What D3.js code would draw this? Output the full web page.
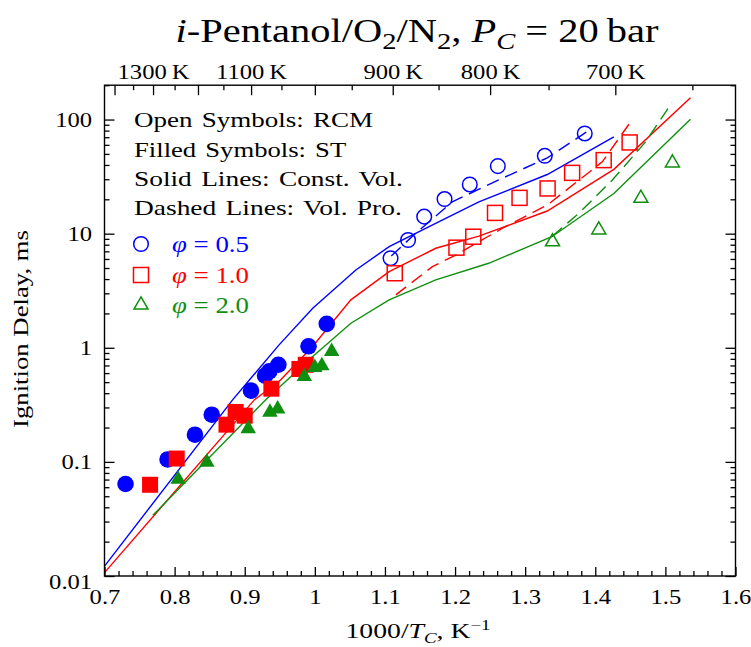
<!DOCTYPE html>
<html><head><meta charset="utf-8">
<script src="https://cdn.jsdelivr.net/npm/d3@7"></script>
<style>
html,body{margin:0;padding:0;background:#fff;}
svg text{font-family:"Liberation Serif","Times New Roman",serif;fill:#000;}
</style></head>
<body>
<svg id="chart" width="751" height="647"></svg>
<script>
// ---- data ----
// shock tube (filled symbols)
const st05X = [0.730,0.790,0.829,0.853,0.909,0.929,0.935,0.948,0.991,1.017];
const st05Y = [0.064,0.105,0.173,0.259,0.421,0.569,0.621,0.710,1.03,1.62];
const st10X = [0.765,0.803,0.874,0.887,0.900,0.938,0.978,0.987];
const st10Y = [0.063,0.107,0.212,0.274,0.254,0.438,0.652,0.710];
const st20X = [0.805,0.846,0.905,0.936,0.947,0.985,1.000,1.010,1.024];
const st20Y = [0.0705,0.0993,0.195,0.272,0.291,0.561,0.673,0.697,0.929];
// RCM (open symbols)
const rcm05X = [1.108,1.133,1.156,1.185,1.221,1.261,1.328,1.385];
const rcm05Y = [6.09,8.8,14.1,20.1,27.0,39.1,48.1,75.5];
const rcm10X = [1.114,1.202,1.226,1.257,1.292,1.332,1.367,1.412,1.449];
const rcm10Y = [4.50,7.54,9.4,15.2,20.6,24.9,34.1,44.1,63];
const rcm20X = [1.339,1.405,1.465,1.510];
const rcm20Y = [8.5,10.8,20.4,41.7];
// constant volume simulations (solid)
const cv05X = [0.7,0.883,0.949,0.997,1.0585,1.106,1.163,1.234,1.3315,1.4265];
const cv05Y = [0.0122,0.351,1.06,2.22,4.81,7.69,11.5,19.0,33.0,70.5];
const cv10X = [0.7,0.914,0.949,0.997,1.0514,1.106,1.1725,1.234,1.3315,1.4265,1.5358];
const cv10Y = [0.0107,0.351,0.507,1.03,2.63,4.64,7.45,9.5,15.8,36.6,155];
const cv20X = [0.769,0.930,0.997,1.0514,1.106,1.1725,1.248,1.338,1.4265,1.5358];
const cv20Y = [0.034,0.351,0.839,1.64,2.63,3.93,5.5,9.4,22.5,100.6];
// volume profile simulations (dashed)
const vp05X = [1.109,1.144,1.196,1.267,1.3315,1.395];
const vp05Y = [6.37,10.1,19.0,30.5,46.1,83.4];
const vp10X = [1.1155,1.1677,1.201,1.267,1.3315,1.3766,1.41,1.448];
const vp10Y = [2.91,5.14,6.5,11.1,17.8,29.4,42.6,91];
const vp20X = [1.3386,1.3766,1.424,1.4717,1.5095];
const vp20Y = [9.5,15.1,29.4,63.7,141];
// ticks
const xTicks = [0.7,0.8,0.9,1.0,1.1,1.2,1.3,1.4,1.5,1.6];
const xTickLabels = ["0.7","0.8","0.9","1","1.1","1.2","1.3","1.4","1.5","1.6"];
const yTicks = [0.01,0.1,1,10,100];
const yTickLabels = ["0.01","0.1","1","10","100"];
const tempTicks = [1400,1350,1300,1250,1200,1150,1100,1050,1000,950,900,850,800,750,700,650];
const tempLabels = [1300,1100,900,800,700];
const legendLines = ["Open Symbols: RCM","Filled Symbols: ST","Solid Lines: Const. Vol.","Dashed Lines: Vol. Pro."];
const phiLabels = ["0.5","1.0","2.0"];

const BLUE = "#0000ff", RED = "#ff0000", GREEN = "#0f8f0f";

// ---- layout ----
const svg = d3.select("#chart");
const L = 104.5, R = 735.5, T = 85.2, B = 576;
const x = d3.scaleLinear().domain([0.7,1.6]).range([L,R]);
const y = d3.scaleLog().domain([0.01,200]).range([B,T]);

const zip = (a,b)=>a.map((v,i)=>[v,b[i]]);
const line = d3.line().x(d=>x(d[0])).y(d=>y(d[1]));

// stretch a text (inside its own group) horizontally to a target width about pivot px
function stretch(textSel, target, pivot){
  const w = textSel.node().getBBox().width;
  const sx = target / w;
  textSel.attr("transform", `translate(${pivot},0) scale(${sx},1) translate(${-pivot},0)`);
}

const plot = svg.append("g");
plot.append("clipPath").attr("id","clip").append("rect")
  .attr("x",L).attr("y",T).attr("width",R-L).attr("height",B-T);
const g = plot.append("g").attr("clip-path","url(#clip)");

function drawLine(X,Y,color,dash){
  g.append("path").datum(zip(X,Y)).attr("d",line)
    .attr("fill","none").attr("stroke",color).attr("stroke-width",1.4)
    .attr("stroke-dasharray",dash?"13,7":null);
}
drawLine(cv05X,cv05Y,BLUE,false);
drawLine(cv10X,cv10Y,RED,false);
drawLine(cv20X,cv20Y,GREEN,false);
drawLine(vp05X,vp05Y,BLUE,true);
drawLine(vp10X,vp10Y,RED,true);
drawLine(vp20X,vp20Y,GREEN,true);

function triPath(s){
  const h = s*Math.sqrt(3)/2;
  return `M0,${-2*h/3}L${s/2},${h/3}L${-s/2},${h/3}Z`;
}
function marker(sel, shape, color, filled){
  let m;
  if(shape==="circle"){
    m = sel.append("circle").attr("r", filled?8.3:7.3);
  } else if(shape==="square"){
    const s = filled?16:15;
    m = sel.append("rect").attr("x",-s/2).attr("y",-s/2).attr("width",s).attr("height",s);
  } else {
    m = sel.append("path").attr("d", triPath(filled?15.5:14));
  }
  if(filled) m.attr("fill",color).attr("stroke","none");
  else m.attr("fill","none").attr("stroke",color).attr("stroke-width",1.5);
}
function drawPts(X,Y,shape,color,filled){
  zip(X,Y).forEach(d=>{
    const gg = g.append("g").attr("transform",`translate(${x(d[0])},${y(d[1])})`);
    marker(gg,shape,color,filled);
  });
}
drawPts(rcm05X,rcm05Y,"circle",BLUE,false);
drawPts(rcm10X,rcm10Y,"square",RED,false);
drawPts(rcm20X,rcm20Y,"tri",GREEN,false);
drawPts(st05X,st05Y,"circle",BLUE,true);
drawPts(st10X,st10Y,"square",RED,true);
drawPts(st20X,st20Y,"tri",GREEN,true);

// ---- axes ----
const fmtX = d=>xTickLabels[xTicks.findIndex(v=>Math.abs(v-d)<1e-6)];
const fmtY = d=>yTickLabels[yTicks.findIndex(v=>Math.abs(v-d)<1e-9)];
const xMinor = d3.range(0.72,1.6,0.02).filter(v=>Math.abs(v*10-Math.round(v*10))>1e-6);
const yMinor = [];
[0.01,0.1,1,10,100].forEach(dec=>{for(let k=2;k<=9;k++){const v=dec*k; if(v<=200) yMinor.push(v);}});

function styleAxis(a){
  a.select(".domain").remove();
  a.selectAll(".tick line").attr("stroke","#000").attr("stroke-width",1.3);
  a.selectAll("text").style("font-size","22px").attr("fill","#000").attr("transform","scale(1.12,1)");
}
const ax1 = svg.append("g").attr("transform",`translate(0,${B})`)
  .call(d3.axisBottom(x).tickValues(xTicks).tickFormat(fmtX).tickSizeInner(-9).tickSizeOuter(0).tickPadding(12));
styleAxis(ax1);
const ax1m = svg.append("g").attr("transform",`translate(0,${B})`)
  .call(d3.axisBottom(x).tickValues(xMinor).tickFormat("").tickSizeInner(-5).tickSizeOuter(0));
styleAxis(ax1m);

const ay1 = svg.append("g").attr("transform",`translate(${L},0)`)
  .call(d3.axisLeft(y).tickValues(yTicks).tickFormat(fmtY).tickSizeInner(-10).tickSizeOuter(0).tickPadding(11));
styleAxis(ay1);
const ay1m = svg.append("g").attr("transform",`translate(${L},0)`)
  .call(d3.axisLeft(y).tickValues(yMinor).tickFormat("").tickSizeInner(-5).tickSizeOuter(0));
styleAxis(ay1m);
const ay2 = svg.append("g").attr("transform",`translate(${R},0)`)
  .call(d3.axisRight(y).tickValues(yTicks).tickFormat("").tickSizeInner(-10).tickSizeOuter(0));
styleAxis(ay2);
const ay2m = svg.append("g").attr("transform",`translate(${R},0)`)
  .call(d3.axisRight(y).tickValues(yMinor).tickFormat("").tickSizeInner(-5).tickSizeOuter(0));
styleAxis(ay2m);
ay1.selectAll(".tick text").filter(d=>d===0.01).attr("dy","0.55em");

// top temperature axis
const tempMajor = tempTicks.filter(t=>t%100===0);
const tempMinor = tempTicks.filter(t=>t%100!==0);
const at1 = svg.append("g").attr("transform",`translate(0,${T})`)
  .call(d3.axisTop(x).tickValues(tempMajor.map(t=>1000/t))
    .tickFormat(v=>{const t=Math.round(1000/v); return tempLabels.includes(t)? t+"\u2009K" : "";})
    .tickSizeInner(-10).tickSizeOuter(0).tickPadding(6));
styleAxis(at1);
const at1m = svg.append("g").attr("transform",`translate(0,${T})`)
  .call(d3.axisTop(x).tickValues(tempMinor.map(t=>1000/t)).tickFormat("").tickSizeInner(-5).tickSizeOuter(0));
styleAxis(at1m);

// frame
svg.append("rect").attr("x",L).attr("y",T).attr("width",R-L).attr("height",B-T)
  .attr("fill","none").attr("stroke","#000").attr("stroke-width",1.4);

// ---- title ----
const title = svg.append("text").attr("x",417).attr("y",42).attr("text-anchor","middle").style("font-size","34px");
title.append("tspan").style("font-style","italic").text("i");
title.append("tspan").text("-Pentanol/O");
title.append("tspan").attr("dy",7).style("font-size","24px").text("2");
title.append("tspan").attr("dy",-7).text("/N");
title.append("tspan").attr("dy",7).style("font-size","24px").text("2");
title.append("tspan").attr("dy",-7).text(", ");
title.append("tspan").style("font-style","italic").text("P");
title.append("tspan").attr("dy",7).style("font-size","24px").style("font-style","italic").text("C");
title.append("tspan").attr("dy",-7).text(" = 20\u2009bar");
stretch(title, 484, 417);

// ---- axis labels ----
const xl = svg.append("text").attr("x",418).attr("y",638).attr("text-anchor","middle").style("font-size","22px");
xl.append("tspan").text("1000/");
xl.append("tspan").style("font-style","italic").text("T");
xl.append("tspan").attr("dy",5).style("font-size","15px").style("font-style","italic").text("C");
xl.append("tspan").attr("dy",-5).text(", K");
xl.append("tspan").attr("dy",-8).style("font-size","15px").text("\u22121");
stretch(xl, 145, 418);

const yg = svg.append("g").attr("transform","translate(28,329) rotate(-90)");
const yl = yg.append("text").attr("x",0).attr("y",0).attr("text-anchor","middle")
  .style("font-size","22px").text("Ignition Delay, ms");
stretch(yl, 198, 0);

// ---- legend ----
const legBase = [127,157,186,215];
const legRight = [373,347,403,402];
legendLines.forEach((t,i)=>{
  const tx = svg.append("text").attr("x",134).attr("y",legBase[i]).style("font-size","22px")
    .style("word-spacing","2px").text(t);
  stretch(tx, legRight[i]-134, 134);
});
const phiColors = [BLUE,RED,GREEN];
const phiShapes = ["circle","square","tri"];
const phiBase = [252,283,313];
phiLabels.forEach((p,i)=>{
  const gg = svg.append("g").attr("transform",`translate(141,${phiBase[i]-8})`);
  marker(gg,phiShapes[i],phiColors[i],false);
  const t = svg.append("text").attr("x",172).attr("y",phiBase[i]).style("font-size","24px").style("fill",phiColors[i]);
  t.append("tspan").style("font-style","italic").text("\u03C6");
  t.append("tspan").text(" = "+p);
  stretch(t, 77, 172);
});
</script>
</body></html>
